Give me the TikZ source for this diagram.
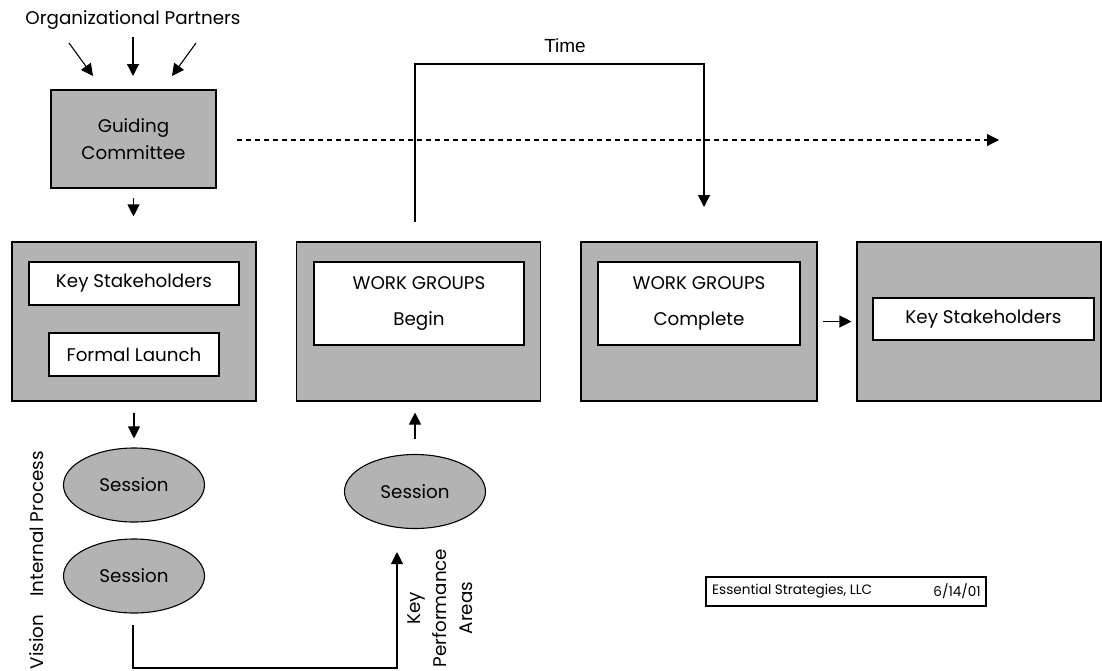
\documentclass[tikz,border=0pt]{standalone}
\usepackage{fontspec}
\setmainfont{Poppins}
\newfontfamily\timefont{Liberation Sans}
\usetikzlibrary{arrows.meta,shapes.geometric,calc}
\definecolor{boxgray}{RGB}{179,179,179}
\begin{document}
\begin{tikzpicture}[x=1pt,y=-1pt,
  every node/.style={font=\fontsize{18.3}{36}\selectfont},
  bigbox/.style={draw,line width=1.1pt,fill=boxgray,minimum width=244pt,minimum height=159pt,inner sep=0pt},
  whitebox/.style={draw,line width=1.1pt,fill=white,inner sep=0pt,align=center},
  sess/.style={ellipse,draw,line width=1.1pt,fill=boxgray,minimum width=141pt,minimum height=74pt,inner sep=0pt},
  arr/.style={line width=1.1pt,-{Triangle[width=12pt,length=12pt]}},
  lbl/.style={inner sep=0pt}]
\useasboundingbox (0,0) rectangle (1102,670);
% Partners
\node[lbl] (partners) at (133,20) {Organizational Partners};
\coordinate (p1s) at (69,43); \coordinate (p1e) at (93,76);
\coordinate (p2s) at (133,37); \coordinate (p2e) at (133,76);
\coordinate (p3s) at (196,43); \coordinate (p3e) at (172,76);
\draw[arr] (p1s) -- (p1e);
\draw[arr] (p2s) -- (p2e);
\draw[arr] (p3s) -- (p3e);
% Guiding committee
\node[bigbox,minimum width=165pt,minimum height=98pt,align=center,font=\fontsize{18.3}{27}\selectfont] (guide) at (133.5,139) {Guiding\\Committee};
% Big boxes
\node[bigbox] (box1) at (134,321.5) {};
\node[bigbox] (box2) at (418.5,321.5) {};
\node[bigbox,minimum width=236pt] (box3) at (699,321.5) {};
\node[bigbox] (box4) at (979,321.5) {};
% inner boxes
\node[whitebox,minimum width=210pt,minimum height=43pt] (ks1) at (134,283.5) {Key Stakeholders};
\node[whitebox,minimum width=170pt,minimum height=43pt] (fl) at (134,354.5) {Formal Launch};
\node[whitebox,minimum width=210pt,minimum height=83pt] (wgb) at (419,303.5) {WORK GROUPS\\Begin};
\node[whitebox,minimum width=202pt,minimum height=83pt] (wgc) at (699,303.5) {WORK GROUPS\\Complete};
\node[whitebox,minimum width=221pt,minimum height=42pt] (ks2) at (983.5,319) {Key Stakeholders};
% sessions
\node[sess] (s1) at (134,485) {Session};
\node[sess] (s2) at (134,576) {Session};
\node[sess] (s3) at (415,491.5) {Session};
% side labels
\node[lbl,rotate=90] (ip) at (37,524) {Internal Process};
\node[lbl,rotate=90] (vis) at (37,642) {Vision};
\node[lbl,rotate=90,align=center,font=\fontsize{18.3}{26}\selectfont] (kpa) at (440,608) {Key\\Performance\\Areas};
% arrows
\draw[arr,shorten <=9pt,shorten >=25pt] (guide.south) -- (guide.south |- box1.north);
\draw[arr,shorten <=11pt,shorten >=9pt] (box1.south) -- (box1.south |- s1.north);
\draw[arr,shorten <=15pt,shorten >=11pt] (s3.north) -- (s3.north |- box2.south);
\draw[arr,shorten <=5pt,shorten >=5pt] (box3.east) -- (box4.west);
% Time bracket
\node[lbl,font=\timefont\fontsize{19}{21}\selectfont] (time) at (565,46) {Time};
\coordinate (t0) at (415,222);
\coordinate (t3) at (704,207);
\draw[arr] (t0) -- (415,64) -- (704,64) -- (t3);
% dashed
\coordinate (d0) at (237,140);
\coordinate (d1) at (999,140);
\draw[line width=1.1pt,dash pattern=on 5pt off 4pt] (d0) -- (990,140);
\draw[arr] (988,140) -- (d1);
% bottom path
\coordinate (b0) at (133,625);
\coordinate (b3) at (397,552);
\draw[arr] (b0) -- (133,668) -- (397,668) -- (b3);
% footer
\node[draw,line width=1.1pt,minimum width=280pt,minimum height=29pt,inner sep=0pt] (foot) at (846,591.5) {};
\node[lbl,anchor=west,font=\fontsize{13.6}{15}\selectfont] (fl1) at (712,591.5) {Essential Strategies, LLC};
\node[lbl,anchor=east,font=\fontsize{13.6}{15}\selectfont] (fl2) at (981,591.5) {6/14/01};
\end{tikzpicture}
\end{document}
